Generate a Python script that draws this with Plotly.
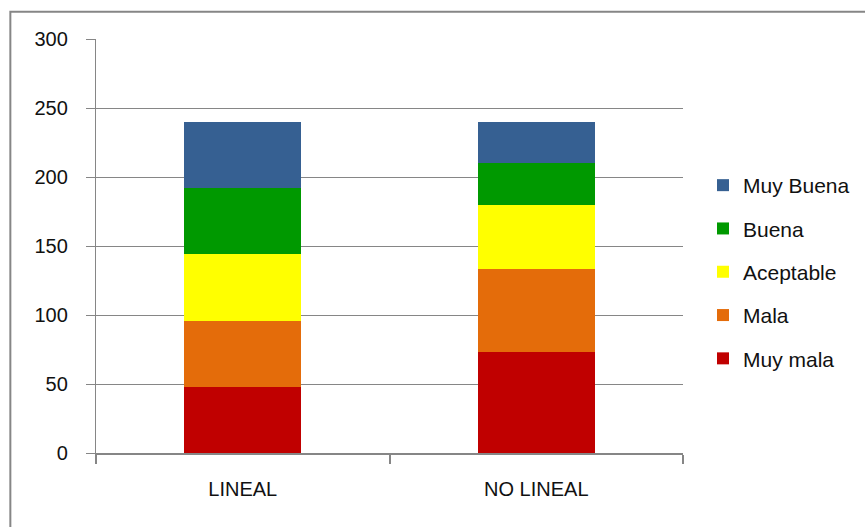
import plotly.graph_objects as go

categories = ["LINEAL", "NO LINEAL"]
series_names = ["Muy mala", "Mala", "Aceptable", "Buena", "Muy Buena"]
muy_mala = [48, 73]
mala = [48, 60]
aceptable = [48, 47]
buena = [48, 30]
muy_buena = [48, 30]
colors = ["#C00000", "#E46C0A", "#FFFF00", "#009900", "#366092"]
y_ticks = [0, 50, 100, 150, 200, 250, 300]

W, H = 865, 527
L, R, T, B = 95.7, 182, 39.3, 73.7
GRID = "#868686"
FONT = "Liberation Sans, Arial, sans-serif"

values = [muy_mala, mala, aceptable, buena, muy_buena]

fig = go.Figure()
for i, (name, vals, col) in enumerate(zip(series_names, values, colors)):
    fig.add_trace(go.Bar(
        x=categories, y=vals, name=name, legendgroup=name,
        legendrank=1000 - i,
        marker=dict(color=col, line=dict(width=0)),
    ))

pw = W - L - R
ph = H - T - B

# outer chart frame (left and top edges visible)
fig.add_shape(type="rect", xref="paper", yref="paper",
              x0=(10 - L) / pw, x1=(880 - L) / pw,
              y0=(H - B - 540) / ph, y1=(H - B - 12) / ph,
              line=dict(color=GRID, width=2), fillcolor="rgba(0,0,0,0)",
              layer="below")

fig.update_layout(
    width=W, height=H,
    margin=dict(l=L, r=R, t=T, b=B, pad=0),
    paper_bgcolor="white", plot_bgcolor="white",
    barmode="stack", bargap=0.6,
    font=dict(family=FONT, size=19, color="#111111"),
    showlegend=True,
    legend=dict(
        xref="container", yref="container",
        x=703 / W, xanchor="left",
        y=1 - 165 / H, yanchor="top",
        traceorder="grouped", tracegroupgap=13,
        font=dict(family=FONT, size=21, color="#111111"),
        bgcolor="rgba(0,0,0,0)", itemwidth=30,
    ),
    xaxis=dict(
        type="category", showgrid=False,
        showline=True, linecolor=GRID, linewidth=2,
        ticks="outside", tickson="boundaries", ticklen=9,
        tickcolor=GRID, tickwidth=2,
        tickfont=dict(family=FONT, size=20, color="#111111"),
        ticklabelstandoff=17,
    ),
    yaxis=dict(
        range=[0, 300], tickvals=y_ticks,
        showgrid=True, gridcolor=GRID, gridwidth=1.3,
        showline=True, linecolor=GRID, linewidth=1.3,
        ticks="outside", ticklen=9, tickcolor=GRID, tickwidth=1.3,
        tickfont=dict(family=FONT, size=20, color="#111111"),
        ticklabelstandoff=14, zeroline=False,
    ),
)

fig.write_html("out.html")
